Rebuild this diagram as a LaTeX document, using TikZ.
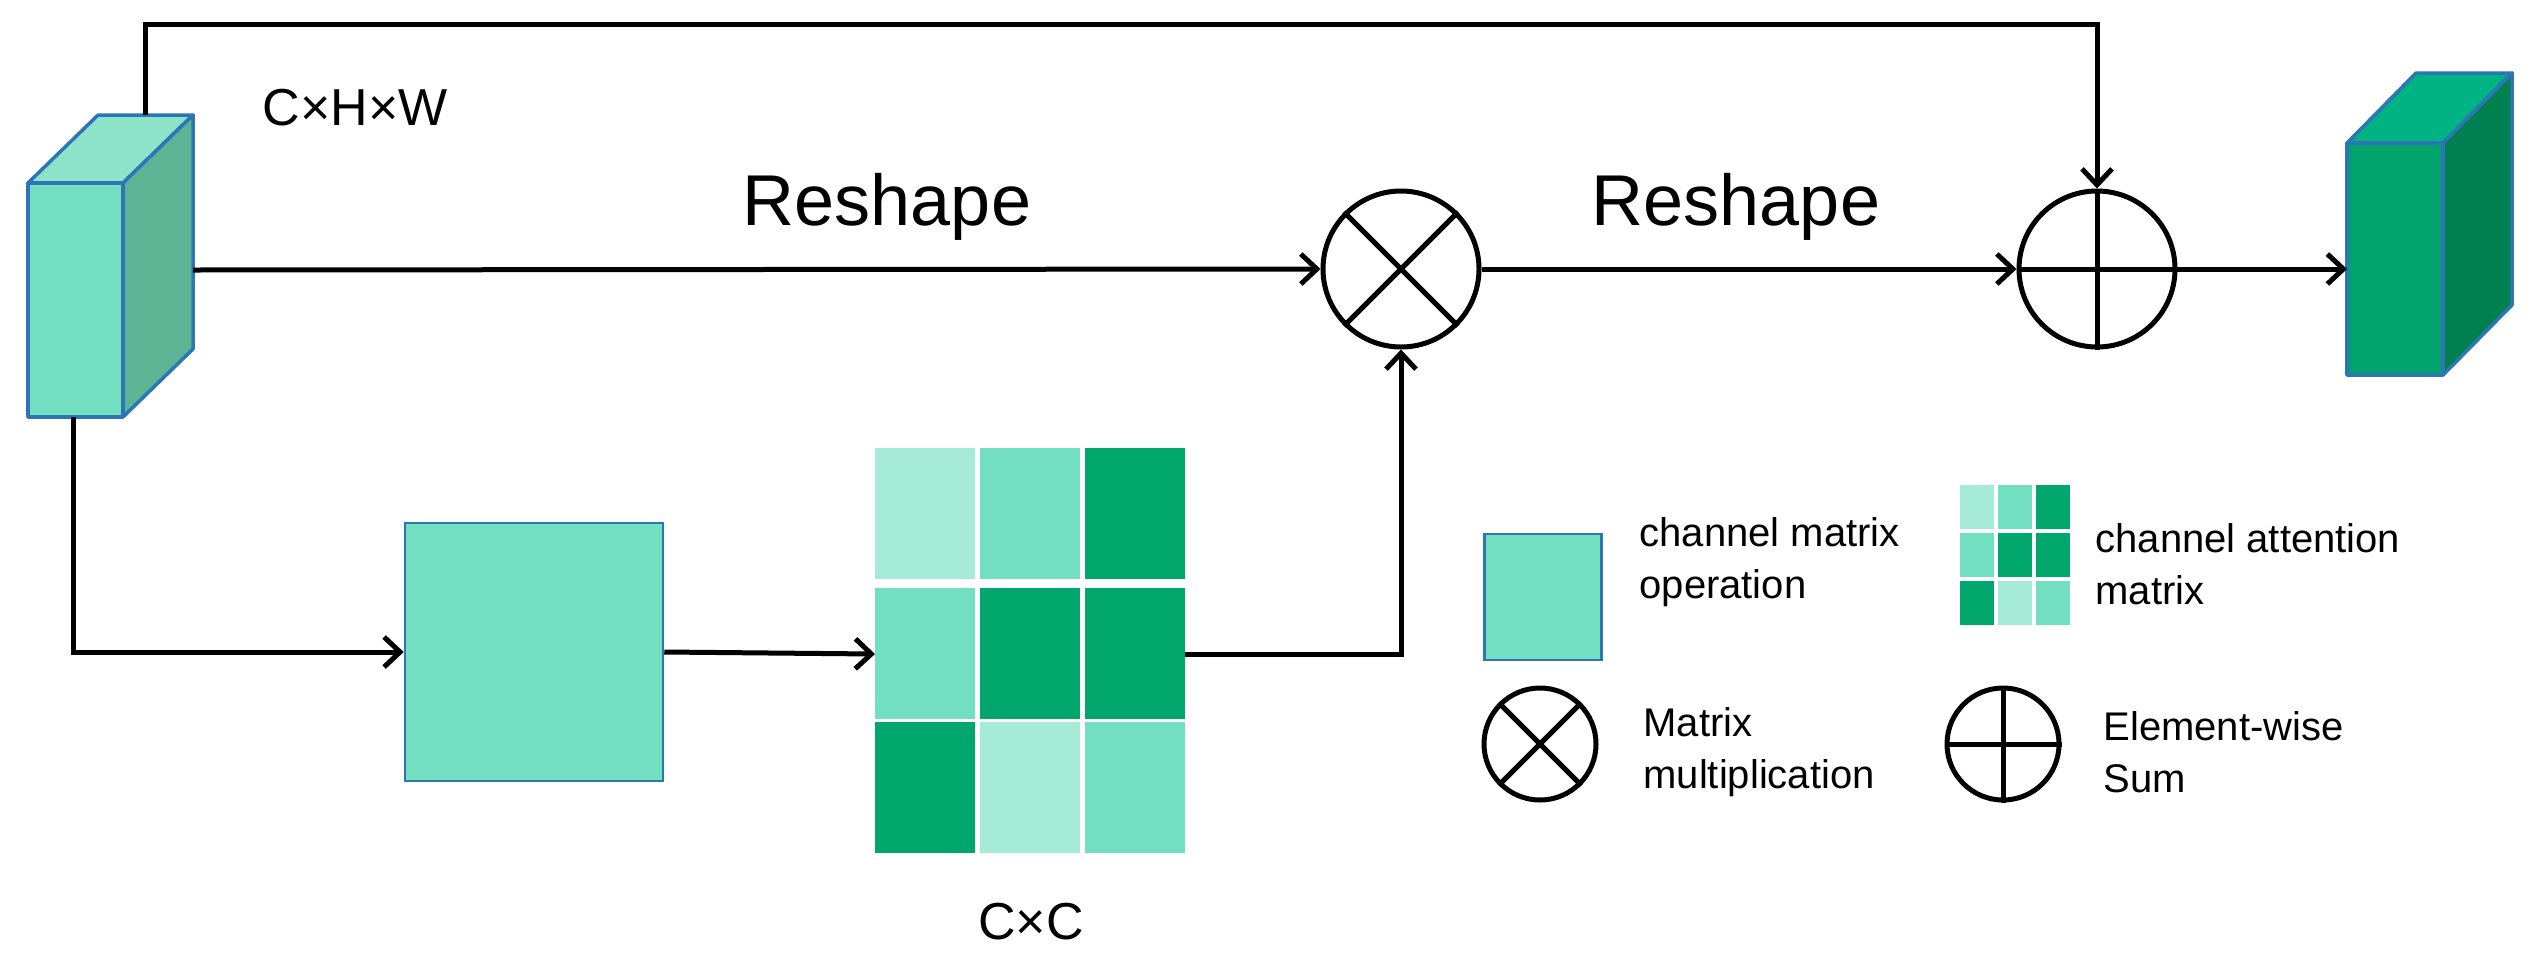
\documentclass[tikz,border=0pt]{standalone}
\usepackage{fontspec}
\setmainfont{Liberation Sans}
\usetikzlibrary{arrows.meta}
\definecolor{mint}{HTML}{72DFC0}
\definecolor{mintside}{HTML}{5BB595}
\definecolor{minttop}{HTML}{8DE3C8}
\definecolor{light}{HTML}{A6EBD5}
\definecolor{dark}{HTML}{00A66C}
\definecolor{gfront}{HTML}{00A36C}
\definecolor{gside}{HTML}{008050}
\definecolor{gtop}{HTML}{00B383}
\definecolor{edge}{HTML}{2E75B6}
\tikzset{
  conn/.style={line width=5pt,-{Straight Barb[length=16pt,width=30pt,line width=5pt]}},
  line/.style={line width=5pt},
  op/.style={circle,draw,line width=5pt,minimum size=#1,inner sep=0pt},
  face/.style={draw=edge,line width=3.5pt,line join=round},
  cell/.style={minimum width=100pt,minimum height=131pt,inner sep=0pt,anchor=north west},
  scell/.style={minimum width=34pt,minimum height=44pt,inner sep=0pt,anchor=north west},
  big/.style={font=\fontsize{72}{80}\selectfont},
  mid/.style={font=\fontsize{52}{60}\selectfont},
  leg/.style={font=\fontsize{40}{52}\selectfont,align=left,anchor=west}
}
\newcommand{\opcross}[1]{\draw[line width=5pt] (#1.north west)--(#1.south east) (#1.north east)--(#1.south west);}
\newcommand{\opplus}[1]{\draw[line width=5pt] (#1.north)--(#1.south) (#1.east)--(#1.west);}
\begin{document}
\begin{tikzpicture}[x=1pt,y=-1pt]
\useasboundingbox (0,0) rectangle (2537,967);
% left cube
\filldraw[face,fill=minttop] (28,183)--(98,115)--(193,115)--(123,183)--cycle;
\filldraw[face,fill=mintside] (123,183)--(193,115)--(193,349)--(123,417)--cycle;
\filldraw[face,fill=mint] (28,183) rectangle (123,417);
\coordinate (cubetop) at (145,115);
\coordinate (cubeR) at (193,270);
\coordinate (cubeB) at (73,417);
% right cube
\filldraw[face,fill=gtop] (2347,143)--(2416,73)--(2512,73)--(2443,143)--cycle;
\filldraw[face,fill=gside] (2443,143)--(2512,73)--(2512,305)--(2443,375)--cycle;
\filldraw[face,fill=gfront] (2347,143) rectangle (2443,375);
\coordinate (outL) at (2347,269);
% operators
\node[op=156pt] (mul) at (1401,269) {}; \opcross{mul}
\node[op=156pt] (sum) at (2097,269) {}; \opplus{sum}
% square
\node[draw=edge,line width=2.5pt,fill=mint,minimum width=258pt,minimum height=258pt,inner sep=0pt] (sq) at (534,652) {};
% matrix
\foreach \c [count=\i from 0] in {light,mint,dark}{\node[cell,fill=\c] (a\i) at (875+\i*105,448) {};}
\foreach \c [count=\i from 0] in {mint,dark,dark}{\node[cell,fill=\c] (b\i) at (875+\i*105,588) {};}
\foreach \c [count=\i from 0] in {dark,light,mint}{\node[cell,fill=\c] (c\i) at (875+\i*105,722) {};}
\coordinate (matL) at (875,654);
\coordinate (matR) at (1185,654);
% labels
\node[mid] (chw) at (355,108) {C×H×W};
\node[big] (r1) at (887,207) {Reshape};
\node[big] (r2) at (1736,207) {Reshape};
\node[mid] (cc) at (1031,922) {C×C};
% connectors
\draw[conn] (cubetop) -- (145,24) -- (2097,24) -- (sum.north);
\draw[conn] (cubeR) -- (mul.west);
\draw[conn] (mul.east) -- (sum.west);
\draw[conn] (sum.east) -- (outL);
\draw[conn] (cubeB) |- (sq.west);
\draw[conn] (sq.east) -- (matL);
\draw[conn] (matR) -| (mul.south);
% legend
\node[draw=edge,line width=2.5pt,fill=mint,minimum width=117pt,minimum height=126pt,inner sep=0pt] (lsq) at (1543,597) {};
\node[leg] (t1) at (1636,562) {channel matrix\\operation};
\foreach \c [count=\i from 0] in {light,mint,dark}{\node[scell,fill=\c] (la\i) at (1960+\i*38,485) {};}
\foreach \c [count=\i from 0] in {mint,dark,dark}{\node[scell,fill=\c] (lb\i) at (1960+\i*38,533) {};}
\foreach \c [count=\i from 0] in {dark,light,mint}{\node[scell,fill=\c] (lc\i) at (1960+\i*38,581) {};}
\node[leg] (t2) at (2092,564) {channel attention\\matrix};
\node[op=112pt] (lmul) at (1540,744) {}; \opcross{lmul}
\node[leg] (t3) at (1640,752) {Matrix\\multiplication};
\node[op=112pt] (lsum) at (2003,744) {}; \opplus{lsum}
\node[leg] (t4) at (2100,752) {Element-wise\\Sum};
\end{tikzpicture}
\end{document}
